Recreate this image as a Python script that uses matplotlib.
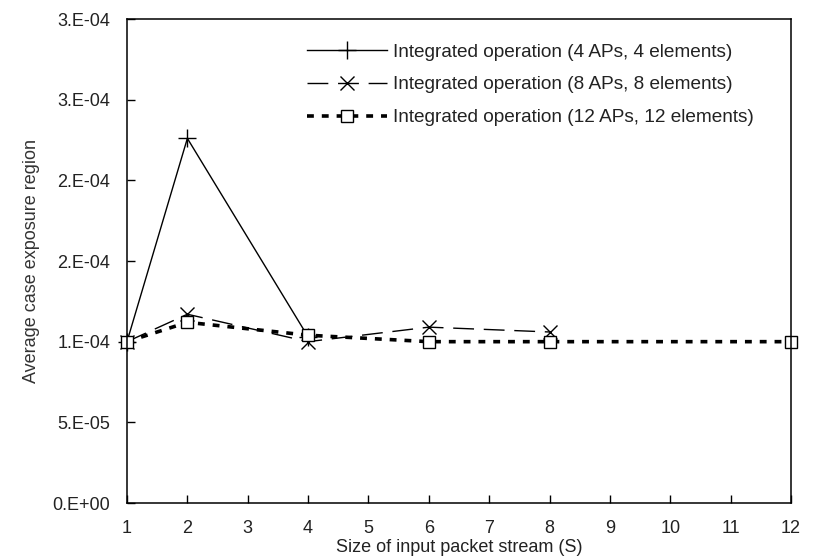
"""Average case exposure region vs. size of input packet stream."""

import matplotlib

matplotlib.use("Agg")
import matplotlib.pyplot as plt

plt.rcParams["font.family"] = ["Liberation Sans", "DejaVu Sans"]

# data
x_4ap = [1, 2, 4]
y_4ap = [1.0e-4, 2.26e-4, 1.03e-4]
x_8ap = [1, 2, 4, 6, 8]
y_8ap = [1.0e-4, 1.17e-4, 1.0e-4, 1.09e-4, 1.06e-4]
x_12ap = [1, 2, 4, 6, 8, 12]
y_12ap = [1.0e-4, 1.12e-4, 1.04e-4, 1.0e-4, 1.0e-4, 1.0e-4]

labels = [
    "Integrated operation (4 APs, 4 elements)",
    "Integrated operation (8 APs, 8 elements)",
    "Integrated operation (12 APs, 12 elements)",
]
x_ticks = list(range(1, 13))
y_ticks = [0.0, 5e-5, 1e-4, 1.5e-4, 2e-4, 2.5e-4, 3e-4]
y_tick_labels = ["0.E+00", "5.E-05", "1.E-04", "2.E-04", "2.E-04", "3.E-04", "3.E-04"]

TEXT = "#222222"

fig = plt.figure(figsize=(8.34, 5.6), dpi=100)
ax = fig.add_axes([127 / 834, 1 - 503 / 560, 664 / 834, 484 / 560])

ax.plot(x_4ap, y_4ap, color="black", lw=1.0, marker="+", ms=13, mew=1.0,
        label=labels[0], clip_on=False)
ax.plot(x_8ap, y_8ap, color="black", lw=1.0, dashes=(15, 7), marker="x",
        ms=10, mew=1.0, label=labels[1], clip_on=False)
ax.plot(x_12ap, y_12ap, color="black", lw=2.6, dashes=(1.9, 2.2), marker="s",
        ms=9, mew=1.0, mfc="white", label=labels[2], clip_on=False)

ax.set_xlim(1, 12)
ax.set_ylim(0, 3e-4)
ax.set_xticks(x_ticks)
ax.set_yticks(y_ticks)
ax.set_yticklabels(y_tick_labels)

for side in ("left", "bottom", "top", "right"):
    ax.spines[side].set_linewidth(1.1)
ax.tick_params(direction="in", length=6, width=1.0, labelsize=13,
               labelcolor=TEXT)
ax.tick_params(axis="x", pad=12)
ax.tick_params(axis="y", pad=12)

ax.set_xlabel("Size of input packet stream (S)", fontsize=13, color=TEXT,
              labelpad=2)
ax.set_ylabel("Average case exposure region", fontsize=13, color="#333333",
              labelpad=9)

ax.legend(loc="upper left", bbox_to_anchor=(0.271, 0.95), frameon=False,
          fontsize=13.7, handlelength=4.2, handletextpad=0.3, labelspacing=0.82,
          borderpad=0, borderaxespad=0, labelcolor=TEXT)

fig.savefig("out.png", dpi=100)
plt.close(fig)
